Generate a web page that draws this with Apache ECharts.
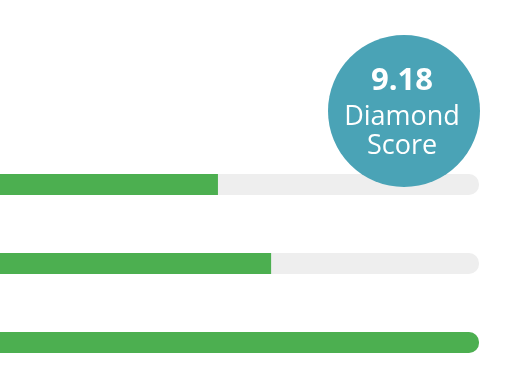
<!DOCTYPE html>
<html>
<head>
<meta charset="utf-8">
<script src="https://cdn.jsdelivr.net/npm/echarts@6/dist/echarts.min.js"></script>
<style>html,body{margin:0;padding:0;background:#fff;}#c{width:510px;height:385px;}</style>
</head>
<body>
<div id="c"></div>
<script>
const categories = ['Item 1', 'Item 2', 'Item 3'];
const values = [4.55, 5.66, 10];
const maxValue = 10;
const score = '9.18';
const scoreLines = ['Diamond', 'Score'];

const chart = echarts.init(document.getElementById('c'));
chart.setOption({
  animation: false,
  grid: { left: 0, right: 31, top: 145, height: 237 },
  xAxis: { type: 'value', min: 0, max: maxValue, show: false },
  yAxis: { type: 'category', data: categories, inverse: true, show: false },
  series: [{
    type: 'bar',
    barWidth: 21,
    showBackground: true,
    backgroundStyle: { color: '#eeeeee', borderRadius: [0, 10, 10, 0] },
    data: values.map(v => ({
      value: v,
      itemStyle: { color: '#4caf50', borderRadius: v >= maxValue ? [0, 10, 10, 0] : 0 }
    }))
  }],
  graphic: [
    { type: 'circle', z: 100, shape: { cx: 404, cy: 111, r: 76 }, style: { fill: '#4aa3b6' } },
    { type: 'text', z: 101, x: 402, y: 81, style: { text: score, fill: '#fff', font: 'bold 31px "Open Sans"', align: 'center', verticalAlign: 'middle' } },
    { type: 'text', z: 101, x: 402, y: 117, style: { text: scoreLines[0], fill: '#fff', font: '500 27px "Open Sans"', align: 'center', verticalAlign: 'middle' } },
    { type: 'text', z: 101, x: 402, y: 146, style: { text: scoreLines[1], fill: '#fff', font: '500 27px "Open Sans"', align: 'center', verticalAlign: 'middle' } }
  ]
});
</script>
</body>
</html>
